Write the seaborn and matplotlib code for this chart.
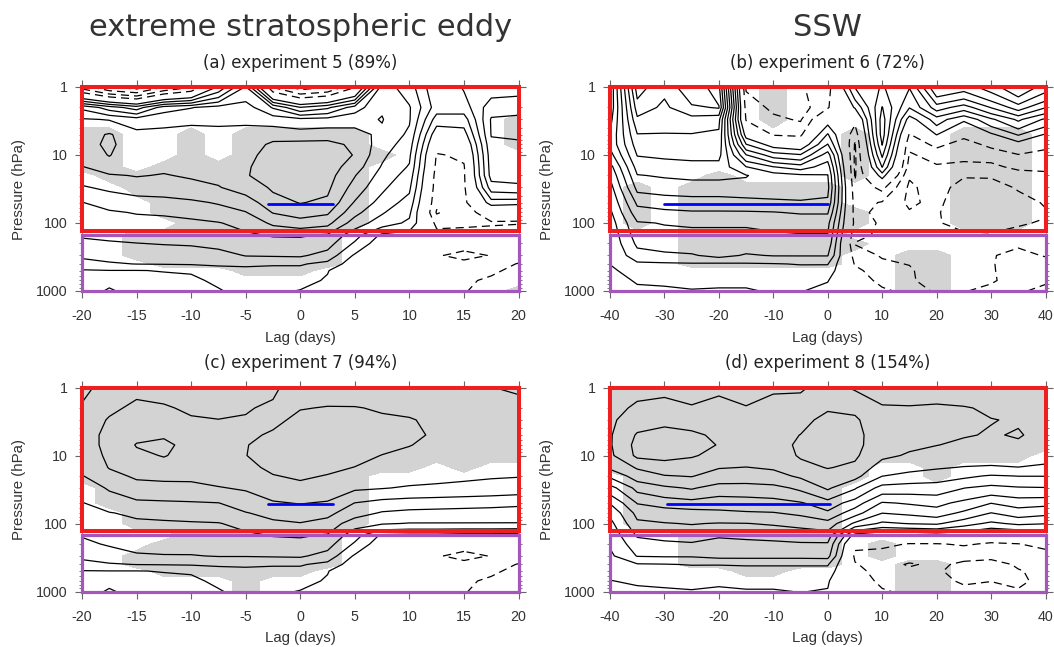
import numpy as np
import matplotlib
matplotlib.use("Agg")
import matplotlib.pyplot as plt
import seaborn as sns
from matplotlib.patches import Rectangle
from matplotlib.ticker import FixedLocator, LogLocator, NullFormatter

# ---------------- data ----------------
PRESSURE = [1, 2, 3, 5, 7, 10, 15, 20, 30, 50, 70, 100, 150, 200, 300, 400, 500, 700, 1000]
LAGS_SHORT = [-20, -17.5, -15, -12.5, -10, -7.5, -5, -2.5, 0, 2.5, 5, 7.5, 10, 12.5, 15, 17.5, 20]
LAGS_LONG = [-40, -35, -30, -25, -20, -15, -10, -5, 0, 5, 10, 15, 20, 25, 30, 35, 40]

TITLES = ["(a) experiment 5 (89%)", "(b) experiment 6 (72%)",
          "(c) experiment 7 (94%)", "(d) experiment 8 (154%)"]
COLUMN_TITLES = ["extreme stratospheric eddy", "SSW"]
X_TICKS_SHORT = [-20, -15, -10, -5, 0, 5, 10, 15, 20]
X_TICKS_LONG = [-40, -30, -20, -10, 0, 10, 20, 30, 40]
Y_TICKS = [1, 10, 100, 1000]
Y_TICK_LABELS = ["1", "10", "100", "1000"]
CONTOUR_LEVELS = [-6, -5, -4, -3, -2, -1, 1, 2, 3, 4, 5, 6, 7, 8, 9, 10, 11, 12]

# fields: one list per lag column, values from 1 hPa (top) to 1000 hPa
FIELD_A = [
    [-2.5, 4.8, 6.1, 6.5, 6.6, 6.4, 5.95, 5.4, 4.9, 3.98, 3.7, 3.4, 3.1, 2.8, 2.15, 1.7, 0.9, 0.7, 0.6],
    [-4.0, 3.5, 5.95, 7.1, 7.2, 7.05, 6.5, 5.9, 5.2, 4.3, 3.9, 3.55, 3.2, 2.9, 2.3, 1.9, 0.98, 0.8, 1.1],
    [-4.5, 2.5, 5.5, 6.3, 6.4, 6.3, 6.2, 6.05, 5.5, 4.5, 4.05, 3.7, 3.3, 2.98, 2.4, 2.02, 0.98, 0.75, 0.7],
    [-3.0, 4.5, 5.8, 6.2, 6.35, 6.35, 6.15, 5.95, 5.55, 4.6, 4.1, 3.75, 3.4, 3.05, 2.45, 2.05, 1.03, 0.8, 0.7],
    [-2.1, 4.95, 5.9, 6.2, 6.3, 6.3, 6.2, 6.1, 5.7, 4.8, 4.2, 3.85, 3.5, 3.1, 2.5, 2.1, 1.05, 0.9, 0.85],
    [1.2, 5.4, 5.9, 6.15, 6.3, 6.35, 6.3, 6.2, 5.95, 5.1, 4.5, 3.95, 3.6, 3.3, 2.6, 2.2, 1.5, 1.1, 0.95],
    [4.1, 5.5, 5.9, 6.2, 6.45, 6.7, 6.9, 6.95, 6.4, 5.5, 4.95, 4.3, 3.85, 3.5, 3.05, 2.2, 1.7, 1.4, 1.2],
    [-2.1, 3.9, 5.6, 6.6, 7.2, 7.4, 7.4, 7.3, 7.15, 6.6, 6.05, 5.2, 4.1, 3.6, 3.1, 2.1, 1.7, 1.4, 1.2],
    [-3.5, 2.05, 5.3, 6.5, 7.3, 7.6, 7.7, 7.6, 7.4, 7.05, 6.4, 5.6, 4.1, 3.7, 3.15, 2.1, 1.7, 1.3, 0.95],
    [-3.1, 2.8, 5.4, 6.6, 7.3, 7.5, 7.5, 7.4, 7.2, 6.8, 6.15, 5.3, 3.9, 3.4, 2.6, 1.7, 1.05, 0.9, 0.75],
    [-1.1, 4.5, 5.7, 6.3, 6.8, 6.95, 6.5, 6.05, 5.6, 4.9, 4.3, 3.5, 2.4, 1.85, 0.85, 0.4, 0.2, 0.2, 0.2],
    [5.5, 5.9, 6.05, 5.8, 5.5, 5.2, 4.9, 4.6, 4.2, 3.6, 3.1, 2.5, 0.8, 0.3, 0.05, -0.2, -0.3, -0.2, -0.1],
    [4.5, 5.1, 5.1, 4.8, 4.5, 4.2, 3.9, 3.6, 3.2, 2.6, 2.2, 1.8, 0.5, 0.05, -0.4, -0.6, -0.5, -0.4, -0.2],
    [2.1, 2.5, 1.5, 0.2, -0.5, -1.1, -1.3, -1.5, -1.6, -1.8, -2.1, -1.3, -0.6, -0.5, -0.9, -0.7, -0.5, -0.4, -0.3],
    [3.1, 2.5, 1.5, 0.5, -0.3, -0.8, -1.1, -1.15, -1.2, -1.3, -1.4, -1.2, -0.6, -0.6, -1.3, -0.7, -0.6, -0.8, -0.95],
    [3.5, 4.6, 5.1, 5.05, 4.8, 4.6, 4.5, 4.4, 3.5, 1.5, -0.5, -1.1, -0.6, -0.3, -0.95, -0.6, -0.8, -1.2, -1.3],
    [3.6, 4.7, 5.2, 5.1, 4.9, 4.7, 4.6, 4.5, 3.7, 1.4, -0.8, -1.05, -0.5, -0.2, -0.6, -1.05, -1.3, -1.3, -1.2],
]
FIELD_B = [
    [4.1, 4.2, 4.6, 5.1, 5.2, 4.6, 3.6, 3.1, 2.6, 2.1, 1.8, 1.5, 1.3, 1.2, 1.1, 1.02, 0.8, 0.6, 0.4],
    [11.5, 10.5, 9.8, 8.95, 8.5, 8.05, 7.4, 6.95, 6.3, 5.2, 4.6, 3.9, 3.5, 3.2, 2.6, 1.8, 1.5, 1.1, 0.8],
    [10.2, 9.8, 9.4, 8.95, 8.6, 8.2, 7.5, 7.1, 6.5, 5.4, 4.8, 4.05, 3.7, 3.4, 2.8, 1.85, 1.55, 1.15, 0.85],
    [11.9, 10.8, 9.6, 8.95, 8.7, 8.3, 7.6, 7.2, 6.6, 5.5, 4.9, 4.1, 3.8, 3.5, 2.9, 1.9, 1.6, 1.2, 0.95],
    [10.3, 11.1, 9.3, 8.8, 8.6, 8.3, 7.6, 7.2, 6.6, 5.5, 4.9, 4.1, 3.8, 3.5, 3.3, 1.85, 1.6, 1.2, 0.9],
    [-2.1, -1.5, -1.1, 0.5, 2.05, 4.05, 6.05, 7.05, 6.7, 5.6, 4.9, 4.1, 3.8, 3.5, 2.9, 1.9, 1.6, 1.1, 0.95],
    [-2.5, -2.2, -1.8, -1.1, 0.5, 2.5, 5.05, 6.5, 6.8, 5.7, 4.95, 4.2, 3.9, 3.6, 3.05, 1.95, 1.65, 1.2, 1.05],
    [-2.1, -2.5, -2.1, -1.2, 0.1, 2.1, 4.5, 6.2, 6.9, 5.8, 5.1, 4.3, 3.95, 3.7, 3.05, 2.05, 1.65, 1.2, 1.05],
    [-1.5, -1.1, 0.5, 2.1, 3.05, 4.5, 5.5, 6.05, 6.3, 5.8, 5.1, 4.3, 3.95, 3.7, 3.05, 2.05, 1.6, 1.05, 0.7],
    [3.05, 1.1, -0.7, -1.7, -2.1, -2.2, -2.2, -2.1, -1.8, -1.5, -1.45, -1.3, -1.7, -2.05, -1.5, -1.1, -0.7, -0.4, -0.3],
    [4.1, 5.05, 5.5, 5.5, 5.05, 4.2, 3.05, 1.5, -0.7, -2.1, -2.5, -2.2, -2.2, -2.5, -2.1, -1.8, -1.7, -1.3, -0.8],
    [3.05, 2.05, 0.5, -1.1, -1.8, -2.1, -2.4, -2.9, -3.2, -3.2, -2.9, -2.9, -2.5, -2.2, -2.1, -2.05, -1.8, -1.7, -1.3],
    [7.0, 4.5, 2.5, 1.05, -0.7, -1.7, -2.1, -2.2, -2.5, -2.7, -2.9, -2.95, -2.9, -2.5, -2.4, -2.5, -2.9, -2.95, -2.2],
    [6.5, 3.5, 1.2, -0.7, -1.5, -1.8, -2.2, -2.9, -3.5, -3.8, -3.6, -3.2, -2.9, -2.4, -2.1, -2.1, -2.2, -2.5, -2.1],
    [7.5, 5.05, 2.8, 0.8, -0.7, -1.7, -2.2, -2.9, -3.4, -3.9, -3.8, -3.4, -2.9, -2.2, -2.05, -2.05, -2.1, -2.2, -1.5],
    [9.0, 6.5, 4.2, 2.1, 0.5, -1.1, -1.8, -2.4, -2.9, -3.4, -3.4, -3.1, -2.7, -2.1, -1.8, -1.7, -1.5, -1.3, -1.1],
    [7.5, 5.05, 2.8, 0.9, -0.6, -1.5, -1.8, -2.2, -2.7, -2.9, -3.1, -2.9, -2.7, -2.2, -2.05, -1.7, -1.3, -1.1, -0.8],
]
FIELD_C = [
    [4.8, 5.1, 5.3, 5.5, 5.5, 5.4, 5.15, 4.95, 4.5, 3.95, 3.7, 3.4, 3.05, 2.8, 2.2, 1.7, 0.95, 0.7, 0.6],
    [5.3, 5.8, 6.1, 6.3, 6.3, 6.2, 6.05, 5.7, 5.1, 4.5, 3.95, 3.6, 3.3, 3.1, 2.5, 1.9, 0.98, 0.8, 1.1],
    [5.8, 6.2, 6.5, 6.8, 7.05, 6.8, 6.5, 6.15, 5.6, 4.8, 4.2, 3.8, 3.5, 3.25, 2.9, 2.02, 0.98, 0.75, 0.7],
    [5.7, 6.1, 6.5, 6.9, 7.2, 7.05, 6.6, 6.2, 5.7, 4.85, 4.3, 3.85, 3.55, 3.3, 2.95, 2.05, 1.03, 0.8, 0.7],
    [5.4, 5.85, 6.1, 6.5, 6.7, 6.7, 6.4, 6.15, 5.8, 4.9, 4.4, 3.9, 3.6, 3.35, 2.95, 2.1, 1.05, 0.9, 0.85],
    [5.3, 5.75, 6.02, 6.6, 6.85, 6.9, 6.6, 6.3, 5.95, 4.98, 4.5, 3.95, 3.65, 3.4, 3.05, 2.2, 1.5, 1.1, 0.95],
    [5.5, 5.9, 6.1, 6.7, 6.95, 6.98, 6.75, 6.5, 6.1, 5.45, 4.95, 4.3, 3.8, 3.5, 3.05, 2.2, 1.7, 1.4, 1.2],
    [5.8, 6.2, 6.7, 7.2, 7.4, 7.4, 7.2, 6.95, 6.5, 5.9, 5.3, 4.8, 4.05, 3.6, 3.1, 2.1, 1.7, 1.4, 1.2],
    [6.6, 6.95, 7.3, 7.6, 7.7, 7.6, 7.4, 7.15, 6.7, 6.05, 5.5, 4.95, 4.1, 3.7, 3.15, 2.1, 1.7, 1.3, 0.95],
    [6.6, 7.05, 7.35, 7.6, 7.6, 7.5, 7.2, 6.95, 6.55, 5.9, 5.25, 4.65, 3.9, 3.4, 2.6, 1.7, 1.05, 0.9, 0.75],
    [6.5, 7.05, 7.3, 7.45, 7.4, 7.25, 6.98, 6.6, 6.15, 4.98, 4.45, 3.4, 2.4, 1.85, 0.85, 0.4, 0.2, 0.2, 0.2],
    [6.5, 6.9, 7.15, 7.3, 7.2, 6.98, 6.7, 6.4, 6.05, 4.6, 3.9, 3.1, 0.8, 0.3, 0.05, -0.2, -0.3, -0.2, -0.1],
    [6.4, 6.85, 7.05, 7.15, 7.02, 6.85, 6.6, 6.35, 5.9, 4.45, 3.75, 2.95, 0.7, 0.1, -0.4, -0.6, -0.5, -0.4, -0.2],
    [6.3, 6.7, 6.85, 6.9, 6.85, 6.7, 6.5, 6.3, 5.8, 4.4, 3.7, 2.95, 0.7, 0.05, -0.9, -0.7, -0.5, -0.4, -0.3],
    [6.2, 6.6, 6.75, 6.8, 6.75, 6.6, 6.4, 6.2, 5.7, 4.35, 3.65, 2.95, 0.6, -0.6, -1.3, -0.7, -0.6, -0.8, -0.95],
    [6.02, 6.5, 6.65, 6.7, 6.65, 6.5, 6.3, 6.1, 5.6, 4.3, 3.6, 2.95, 0.6, -0.3, -0.95, -0.6, -0.8, -1.2, -1.3],
    [5.85, 6.4, 6.55, 6.6, 6.55, 6.4, 6.2, 6.05, 5.5, 4.2, 3.55, 2.95, 0.5, -0.2, -0.6, -1.05, -1.3, -1.3, -1.2],
]
FIELD_D = [
    [8.0, 8.6, 8.8, 8.9, 8.9, 8.8, 8.2, 7.2, 5.6, 4.05, 3.2, 2.7, 2.3, 2.1, 1.8, 1.5, 1.2, 0.98, 0.9],
    [8.7, 9.2, 9.6, 10.1, 10.3, 10.2, 9.1, 8.5, 7.3, 6.05, 5.3, 4.8, 4.1, 3.6, 3.05, 1.9, 1.5, 1.1, 0.85],
    [8.8, 9.3, 9.8, 10.3, 10.5, 10.3, 9.5, 8.95, 7.8, 6.4, 5.5, 4.95, 4.3, 3.8, 3.1, 1.95, 1.55, 1.15, 0.9],
    [8.6, 9.1, 9.6, 10.2, 10.4, 10.1, 9.4, 9.05, 8.1, 6.6, 5.6, 5.05, 4.4, 3.9, 3.1, 2.05, 1.6, 1.2, 0.95],
    [8.9, 9.2, 9.5, 9.8, 9.95, 9.7, 9.05, 8.6, 7.6, 6.4, 5.8, 4.95, 4.1, 3.7, 3.3, 2.05, 1.5, 1.1, 0.9],
    [8.7, 9.05, 9.4, 9.6, 9.6, 9.4, 8.98, 8.55, 7.6, 6.5, 5.9, 4.98, 4.2, 3.75, 3.3, 2.1, 1.6, 1.15, 0.95],
    [8.9, 9.3, 9.5, 9.6, 9.65, 9.5, 9.1, 8.7, 7.7, 6.6, 5.95, 5.1, 4.3, 3.8, 3.3, 2.1, 1.6, 1.15, 0.95],
    [8.9, 9.4, 9.7, 10.02, 10.15, 10.1, 9.7, 9.15, 8.2, 6.9, 6.2, 5.3, 4.4, 3.9, 3.3, 2.1, 1.6, 1.2, 1.02],
    [9.3, 9.9, 10.3, 10.6, 10.7, 10.5, 10.05, 9.6, 9.15, 7.6, 6.8, 5.6, 4.5, 3.9, 3.35, 2.1, 1.6, 1.1, 0.95],
    [8.9, 9.8, 10.15, 10.3, 10.3, 10.15, 9.8, 9.3, 8.1, 6.5, 5.4, 3.8, 0.5, -0.8, -1.2, -0.9, -0.7, -0.5, -0.3],
    [8.8, 9.05, 9.3, 9.4, 9.35, 9.2, 8.5, 8.02, 6.6, 4.9, 4.02, 2.8, 0.05, -0.8, -1.4, -1.6, -1.4, -1.2, -0.9],
    [8.7, 9.05, 9.25, 9.3, 9.15, 8.9, 8.3, 7.7, 6.5, 5.1, 4.2, 3.05, 0.05, -1.05, -1.6, -2.1, -1.8, -1.5, -1.2],
    [8.7, 9.1, 9.2, 9.15, 9.02, 8.6, 8.1, 7.5, 6.5, 5.3, 4.5, 3.15, 0.3, -1.05, -1.5, -1.8, -1.9, -1.8, -1.5],
    [8.6, 9.05, 9.15, 9.05, 8.85, 8.5, 7.95, 7.2, 6.02, 4.7, 3.8, 2.4, 0.2, -0.9, -1.7, -2.2, -2.3, -2.1, -1.8],
    [8.5, 8.9, 9.02, 8.95, 8.8, 8.4, 7.9, 6.9, 5.7, 4.02, 2.98, 1.8, -0.5, -1.1, -1.8, -2.3, -2.2, -2.02, -1.6],
    [8.5, 8.8, 8.95, 9.05, 8.9, 8.5, 7.98, 7.02, 5.9, 4.4, 3.5, 2.2, -0.3, -1.02, -1.5, -1.9, -2.05, -2.2, -1.9],
    [8.6, 8.8, 8.85, 8.8, 8.7, 8.4, 7.8, 7.02, 5.95, 4.3, 3.25, 2.05, -0.2, -0.8, -1.3, -1.6, -1.8, -1.7, -1.4],
]

# significance (grey shading): one string per pressure level, one char per lag
MASK_A = ["00000000000000000", "00000000000000000", "00000000000000001",
          "11001011111000001", "11001011111000001", "11001011111100000",
          "11011111111000000", "01111111111000000", "00111111111000000",
          "00011111111000000", "00011111111000000", "00001111111000000",
          "00111111110000000", "00111111110000000", "00111111110000000",
          "00011111110000000", "00000011100000000", "00000000000000000",
          "00000000000000001"]
MASK_B = ["00000010000000000", "00000010000000000", "00000010000000000",
          "00000000010001110", "00000000010001110", "00000000010001110",
          "00000000010001110", "00001000010001110", "01011111100001110",
          "01011111100001110", "01011111110001110", "01011111110001110",
          "00011111100000000", "00011111110000000", "00011111100110000",
          "00011111100110000", "00000000000110000", "00000000000110000",
          "00000000000110000"]
MASK_C = ["11111111111111111", "11111111111111111", "11111111111111111",
          "11111111111111111", "11111111111111111", "11111111111111111",
          "11111111111110100", "11111111111000000", "01111111111000000",
          "01111111111000000", "00111111111000000", "00111111111000000",
          "00001111110000000", "00011111110000000", "00111111110000000",
          "00111111110000000", "00011111100000000", "00000010000000000",
          "00000010000000000"]
MASK_D = ["11111111111111111", "11111111111111111", "11111111111111111",
          "11111111111111111", "11111111111111111", "11111111111111110",
          "11111111110010000", "01111111110010000", "01111111100000000",
          "01111111100000000", "01111111100000000", "01111111100000000",
          "00011111100000000", "00011111101000000", "00011111101000000",
          "00011111100110000", "00000110000110000", "00000000000110000",
          "00000000000110000"]

# reference period markers (blue) and layer boxes
BLUE_A = ([-3, 3], [53, 53])
BLUE_B = ([-30, 0], [53, 53])
BLUE_C = ([-3, 3], [52, 52])
BLUE_D = ([-29.5, 0.5], [52, 52])
STRAT_BOX = (1, 130)      # hPa, red
TROPO_BOX = (149, 1000)   # hPa, purple

# ---------------- style ----------------
sns.set_style("ticks")
plt.rcParams["font.family"] = ["Liberation Sans", "DejaVu Sans"]
plt.rcParams["lines.dashed_pattern"] = [6.5, 4.0]
plt.rcParams["contour.negative_linestyle"] = "dashed"

TEXT = "#333333"
GRAY = "#d3d3d3"
RED = "#f01e1e"
PURPLE = "#a456bd"

W, H = 1054, 647
fig = plt.figure(figsize=(W / 100, H / 100), dpi=100)

def fpos(x0, x1, y0, y1):
    return [x0 / W, 1 - y1 / H, (x1 - x0) / W, (y1 - y0) / H]

panels = [
    dict(pos=fpos(82, 518.5, 87, 291), lags=LAGS_SHORT, field=FIELD_A, mask=MASK_A,
         blue=BLUE_A, xt=X_TICKS_SHORT, title=TITLES[0], ty=68.5),
    dict(pos=fpos(610, 1045.5, 87, 291), lags=LAGS_LONG, field=FIELD_B, mask=MASK_B,
         blue=BLUE_B, xt=X_TICKS_LONG, title=TITLES[1], ty=68.5),
    dict(pos=fpos(82, 518.5, 387.5, 591.5), lags=LAGS_SHORT, field=FIELD_C, mask=MASK_C,
         blue=BLUE_C, xt=X_TICKS_SHORT, title=TITLES[2], ty=368.5),
    dict(pos=fpos(610, 1045.5, 387.5, 591.5), lags=LAGS_LONG, field=FIELD_D, mask=MASK_D,
         blue=BLUE_D, xt=X_TICKS_LONG, title=TITLES[3], ty=368.5),
]

axes = []
for p in panels:
    ax = fig.add_axes(p["pos"])
    axes.append(ax)
    lags = np.array(p["lags"], dtype=float)
    pres = np.array(PRESSURE, dtype=float)
    Z = np.array(p["field"]).T
    M = np.array([[int(c) for c in row] for row in p["mask"]], dtype=float)

    ax.contourf(lags, pres, M, levels=[0.5, 1.5], colors=[GRAY], zorder=1)
    ax.contour(lags, pres, Z, levels=CONTOUR_LEVELS, colors="black",
               linewidths=0.9, zorder=2)
    sns.lineplot(x=p["blue"][0], y=p["blue"][1], ax=ax, color="#0000ff",
                 linewidth=2.0, zorder=4, legend=False)

    x0, x1 = lags[0], lags[-1]
    ax.set_yscale("log")
    ax.set_xlim(x0, x1)
    ax.set_ylim(1000, 1)

    ax.add_patch(Rectangle((x0, STRAT_BOX[0]), x1 - x0, STRAT_BOX[1] - STRAT_BOX[0],
                           fill=False, edgecolor=RED, linewidth=2.9, zorder=6,
                           clip_on=False))
    ax.add_patch(Rectangle((x0, TROPO_BOX[0]), x1 - x0, TROPO_BOX[1] - TROPO_BOX[0],
                           fill=False, edgecolor=PURPLE, linewidth=2.3, zorder=6,
                           clip_on=False))

    for s in ax.spines.values():
        s.set_color("#9a9a9a")
        s.set_linewidth(0.8)

    ax.yaxis.set_major_locator(FixedLocator(Y_TICKS))
    ax.set_yticklabels(Y_TICK_LABELS)
    ax.yaxis.set_minor_locator(LogLocator(base=10, subs=np.arange(2, 10)))
    ax.yaxis.set_minor_formatter(NullFormatter())
    ax.set_xticks(p["xt"])
    ax.set_xticklabels([str(t) for t in p["xt"]])
    ax.tick_params(which="both", direction="out", top=True, right=True,
                   color="#666666", labelcolor=TEXT)
    ax.tick_params(which="major", length=5, width=0.8, labelsize=10.3)
    ax.tick_params(which="minor", length=2.4, width=0.6)
    ax.tick_params(axis="x", which="minor", bottom=False, top=False)
    ax.tick_params(axis="x", which="major", pad=8)
    ax.tick_params(axis="y", which="major", pad=5.5)

    ax.set_xlabel("Lag (days)", fontsize=10.8, color=TEXT, va="center")
    ax.xaxis.set_label_coords(0.5, -0.23)
    ax.set_ylabel("Pressure (hPa)", fontsize=10.8, color=TEXT, va="center")
    ax.yaxis.set_label_coords(-0.145, 0.5)

    cx = (p["pos"][0] + p["pos"][2] / 2)
    fig.text(cx, 1 - p["ty"] / H, p["title"], ha="center", va="baseline",
             fontsize=12, color="#222222", family="DejaVu Sans")

for i, t in enumerate(COLUMN_TITLES):
    pos = panels[i]["pos"]
    fig.text(pos[0] + pos[2] / 2, 1 - 35.5 / H, t, ha="center", va="baseline",
             fontsize=22, color=TEXT, family="DejaVu Sans")

fig.savefig("out.png", dpi=100)
